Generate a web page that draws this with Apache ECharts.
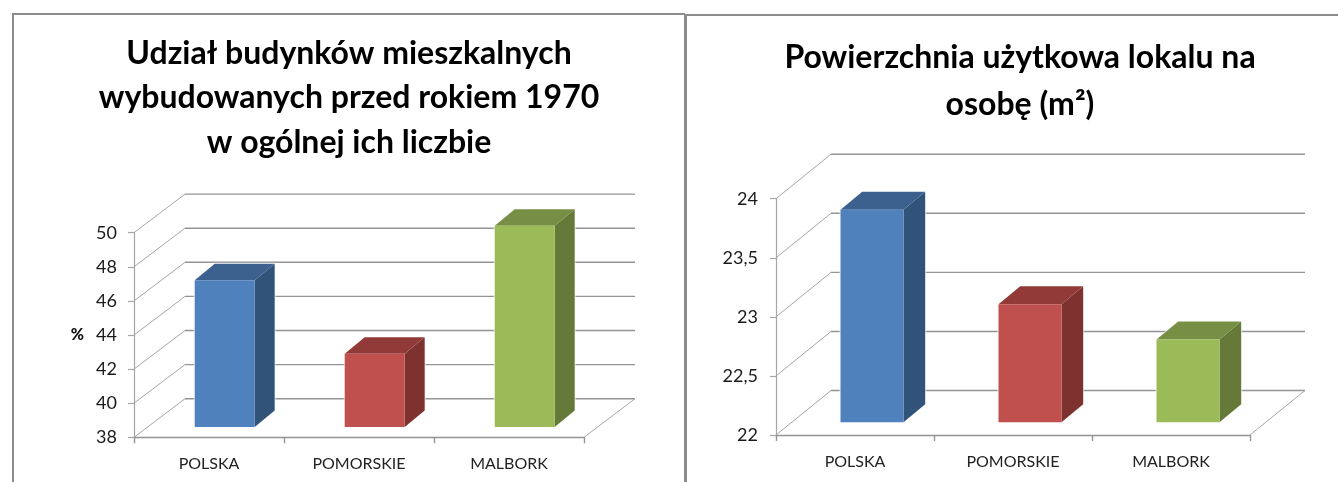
<!DOCTYPE html>
<html>
<head>
<meta charset="utf-8">
<style>html,body{margin:0;padding:0;background:#fff}#c{width:1338px;height:482px}</style>
<script src="https://cdn.jsdelivr.net/npm/echarts@6/dist/echarts.min.js"></script>
</head>
<body>
<div id="c"></div>
<script>
const categories = ['POLSKA', 'POMORSKIE', 'MALBORK'];
const shareValues = [46.6, 42.3, 49.8];
const areaValues = [23.8, 23.0, 22.7];
const shareTicks = [38, 40, 42, 44, 46, 48, 50];
const areaTicks = [22, 22.5, 23, 23.5, 24];
const faceColors = ['#4F81BD', '#C0504D', '#9BBB59'];
const sideColors = ['#315379', '#7D3230', '#657A38'];
const topColors = ['#3D618F', '#923A38', '#778F44'];
const shareTitle = 'Udział budynków mieszkalnych\nwybudowanych przed rokiem 1970\nw ogólnej ich liczbie';
const areaTitle = 'Powierzchnia użytkowa lokalu na\nosobę (m²)';

const FONT = 'Lato, "Open Sans", sans-serif';
const GRID_LINE = '#949494';

function wallSeries(axisIndex, ticks, depth) {
  return {
    type: 'custom', xAxisIndex: axisIndex, yAxisIndex: axisIndex, z: 1, silent: true,
    clip: false,
    data: ticks.map(t => [0, t]),
    encode: { x: 0, y: 1 },
    renderItem(params, api) {
      const grid = params.coordSys;
      const p = api.coord([0, api.value(1)]);
      const x0 = grid.x, x1 = grid.x + grid.width, y = p[1];
      const children = [
        { type: 'polyline', shape: { points: [[x0, y], [x0 + depth[0], y + depth[1]]] }, style: { stroke: '#a6a6a6', lineWidth: 1, fill: 'none' } },
        { type: 'polyline', shape: { points: [[x0 + depth[0], y + depth[1]], [x1 + depth[0], y + depth[1]]] }, style: { stroke: GRID_LINE, lineWidth: 1.4, fill: 'none' } }
      ];
      if (params.dataIndex === 0) {
        children.push({ type: 'polyline', shape: { points: [[x1, y], [x1 + depth[0], y + depth[1]]] }, style: { stroke: '#a6a6a6', lineWidth: 1, fill: 'none' } });
      }
      return { type: 'group', children };
    }
  };
}

function barSeries(axisIndex, values, floorY, geom) {
  return {
    type: 'custom', xAxisIndex: axisIndex, yAxisIndex: axisIndex, z: 3, silent: true,
    clip: false,
    data: values.map((v, i) => [i, v]),
    encode: { x: 0, y: 1 },
    renderItem(params, api) {
      const i = params.dataIndex;
      const top = api.coord([i, api.value(1)]);
      const base = api.coord([i, floorY]);
      const xl = top[0] + geom.shift - geom.width / 2, xr = xl + geom.width;
      const yb = base[1] + geom.lift, yt = top[1] + geom.lift;
      const dx = geom.dx, dy = geom.dy;
      return { type: 'group', children: [
        { type: 'polygon', shape: { points: [[xl, yb], [xr, yb], [xr + dx, yb + dy], [xr + dx, yt + dy], [xl + dx, yt + dy], [xl, yt]] }, style: { fill: '#fff', stroke: 'rgba(255,255,255,0.6)', lineWidth: 2 } },
        { type: 'polygon', shape: { points: [[xr, yb], [xr + dx, yb + dy], [xr + dx, yt + dy], [xr, yt]] }, style: { fill: sideColors[i] } },
        { type: 'polygon', shape: { points: [[xl, yt], [xl + dx, yt + dy], [xr + dx, yt + dy], [xr, yt]] }, style: { fill: topColors[i] } },
        { type: 'rect', shape: { x: xl, y: yt, width: geom.width, height: yb - yt }, style: { fill: faceColors[i] } }
      ] };
    }
  };
}

function titleFor(text, x, y, lineHeight) {
  return { text, left: x, top: y, textAlign: 'center', padding: 0,
    textStyle: { fontFamily: FONT, fontWeight: 'bold', fontSize: 32, lineHeight, color: '#000' } };
}
function xAxisFor(gridIndex) {
  return { type: 'category', gridIndex, data: categories, boundaryGap: true,
    axisLine: { show: true, lineStyle: { color: GRID_LINE, width: 1.4 } },
    axisTick: { show: true, length: 6, lineStyle: { color: GRID_LINE, width: 1.4 } },
    axisLabel: { fontFamily: FONT, fontSize: 16, color: '#222', margin: 19 }, splitLine: { show: false } };
}
function yAxisFor(gridIndex, ticks, interval, formatter, name, margin) {
  return { type: 'value', gridIndex, min: ticks[0], max: ticks[ticks.length - 1], interval,
    name, nameLocation: 'middle', nameGap: 50, nameRotate: 0,
    nameTextStyle: { fontFamily: FONT, fontWeight: 900, fontSize: 16, color: '#111', padding: [8, 0, 0, 0] },
    axisLine: { show: true, lineStyle: { color: '#a6a6a6', width: 1.2 } },
    axisTick: { show: true, length: 6, lineStyle: { color: '#a6a6a6', width: 1.2 } },
    axisLabel: { fontFamily: FONT, fontSize: 18, color: '#1a1a1a', margin, formatter },
    splitLine: { show: false } };
}

const chart = echarts.init(document.getElementById('c'), null, { renderer: 'canvas' });
chart.setOption({
  animation: false,
  backgroundColor: '#fff',
  title: [titleFor(shareTitle, 349, 31, 44.5), titleFor(areaTitle, 1020, 34, 47)],
  grid: [
    { left: 134, top: 232.7, width: 450, height: 204.6 },
    { left: 776, top: 198.7, width: 474, height: 236.3 }
  ],
  xAxis: [xAxisFor(0), xAxisFor(1)],
  yAxis: [
    yAxisFor(0, shareTicks, 2, v => String(v), '%', 17),
    yAxisFor(1, areaTicks, 0.5, v => String(v).replace('.', ','), '', 18)
  ],
  series: [
    wallSeries(0, shareTicks, [51, -38.6]),
    wallSeries(1, areaTicks, [55, -44.5]),
    barSeries(0, shareValues, shareTicks[0], { shift: 15.7, lift: -10.3, width: 60, dx: 20, dy: -16.5 }),
    barSeries(1, areaValues, areaTicks[0], { shift: 17, lift: -12.7, width: 63, dx: 21.7, dy: -18 })
  ],
  graphic: [
    { type: 'polyline', silent: true, shape: { points: [[13, 482], [13, 14], [685, 14]] }, style: { stroke: '#8c8c8c', lineWidth: 2, fill: 'none' } },
    { type: 'polyline', silent: true, shape: { points: [[685.5, 482], [685.5, 14]] }, style: { stroke: '#8c8c8c', lineWidth: 3, fill: 'none' } },
    { type: 'polyline', silent: true, shape: { points: [[686, 15], [1338, 15]] }, style: { stroke: '#8c8c8c', lineWidth: 2, fill: 'none' } }
  ]
});
</script>
</body>
</html>
